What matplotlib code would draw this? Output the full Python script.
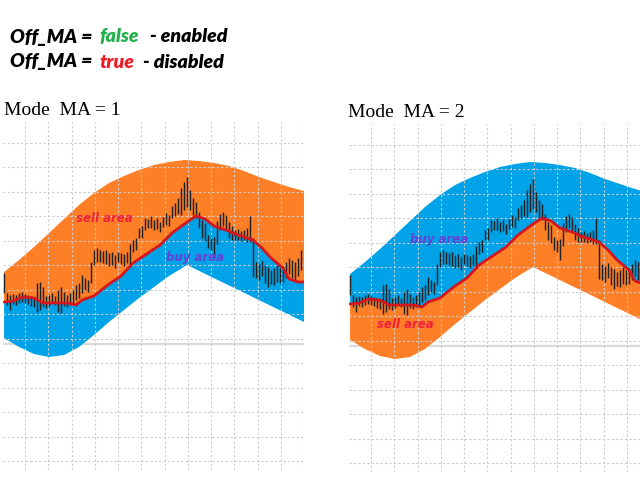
import numpy as np
import matplotlib.pyplot as plt

# bar highs / lows (price points), one bar per index 0..99
bar_high = [207, 187, 185, 186, 185, 187, 188, 186, 185, 184,
            183, 197, 198, 193, 184, 185, 187, 184, 190, 193,
            188, 185, 187, 190, 195, 197, 205, 202, 200, 218,
            230, 232, 230, 229, 230, 227, 228, 225, 228, 227,
            226, 228, 236, 240, 242, 252, 254, 262, 261, 264,
            260, 262, 258, 263, 267, 265, 274, 277, 282, 292,
            298, 303, 290, 282, 278, 268, 260, 257, 245, 242,
            243, 259, 266, 268, 265, 258, 254, 250, 251, 249,
            250, 252, 264, 242, 218, 216, 219, 215, 213, 210,
            212, 215, 212, 214, 218, 222, 220, 218, 222, 230]
bar_low = [187, 175, 170, 176, 175, 177, 178, 177, 176, 174,
           173, 168, 170, 173, 172, 174, 177, 175, 168, 167,
           174, 173, 175, 175, 180, 182, 187, 190, 188, 197,
           215, 218, 218, 217, 216, 214, 215, 212, 218, 216,
           214, 217, 213, 228, 230, 242, 242, 250, 252, 252,
           250, 251, 248, 253, 255, 254, 262, 264, 266, 265,
           270, 273, 270, 265, 262, 252, 242, 239, 232, 230,
           222, 236, 250, 254, 250, 242, 240, 240, 240, 239,
           240, 238, 238, 203, 202, 200, 204, 197, 193, 196,
           195, 198, 197, 198, 202, 206, 202, 200, 204, 210]

# upper edge of the band
x_upper = [0, 5, 10, 15, 20, 25, 30, 35, 40, 45, 50, 55, 60, 65, 70, 75, 80, 85, 90, 95, 100]
upper = [208, 220, 233, 247, 261, 275, 287, 297, 304, 310, 315, 318, 320, 319, 317, 314, 309, 303, 298, 293, 289]

# lower edge of the band
x_lower = [0, 5, 10, 15, 20, 25, 30, 35, 40, 45, 50, 55, 61, 100]
lower = [142, 133, 126, 123, 125, 133, 145, 158, 170, 182, 193, 204, 215, 158]

# moving average line
x_ma = [0, 3, 6, 10, 13, 16, 21, 24, 26, 30, 32, 35, 39, 43, 46, 52,
        56, 61, 64, 67, 70, 74, 77, 80, 83, 86, 89, 93, 95, 98, 100]
ma = [178, 179, 183, 182, 177, 177, 177, 175, 180, 184, 189, 196, 204, 217, 223, 235,
      247, 258, 264, 261, 254, 250, 246, 243, 240, 232, 222, 212, 201, 198, 198]

base_level = 136

ORANGE = '#ff7f27'
BLUE = '#00a2e8'


def draw_panel(ax, above_color, below_color, above_label, below_label, above_pos, below_pos):
    n = len(bar_high)
    ax.fill(np.concatenate([x_upper, x_ma[::-1]]), np.concatenate([upper, ma[::-1]]),
            color=above_color, lw=0, zorder=1)
    ax.fill(np.concatenate([x_ma, x_lower[::-1]]), np.concatenate([ma, lower[::-1]]),
            color=below_color, lw=0, zorder=1)
    ax.axhline(base_level, color='#dadada', lw=1.6, zorder=0.5)
    ax.vlines(np.arange(n), bar_low, bar_high, color='#222222', lw=1.05, zorder=3)
    ax.plot(x_ma, ma, color='#d4161e', lw=2.0, zorder=4, solid_capstyle='round')

    lab = dict(fontsize=8.5, fontweight='bold', fontstyle='italic', family='DejaVu Sans',
               ha='left', va='center', zorder=5)
    ax.text(above_pos[0], above_pos[1], above_label[0], color=above_label[1], **lab)
    ax.text(below_pos[0], below_pos[1], below_label[0], color=below_label[1], **lab)

    ax.set_xlim(-0.35, 100)
    ax.set_ylim(10, 358)
    ax.set_xticks(np.arange(7, 101, 7.75))
    ax.set_yticks(np.arange(19, 358, 24.46))
    ax.set_axisbelow(False)
    ax.grid(True, color='#cccccc', lw=0.8, linestyle=(0, (2, 2)))
    ax.tick_params(length=0, labelbottom=False, labelleft=False)
    for s in ax.spines.values():
        s.set_visible(False)


fig = plt.figure(figsize=(6.4, 4.8), dpi=100)
W, H = 640, 480

ax1 = fig.add_axes([3 / W, 10 / H, 301 / W, 348 / H])
draw_panel(ax1, ORANGE, BLUE,
           ('sell area', '#f0203c'), ('buy area', '#6b3fd6'),
           (24, 262), (54, 223))

ax2 = fig.add_axes([349 / W, 8 / H, 301 / W, 348 / H])
draw_panel(ax2, BLUE, ORANGE,
           ('buy area', '#6b3fd6'), ('sell area', '#f0203c'),
           (20, 243), (9, 157))

title_kw = dict(family='Liberation Serif', fontsize=14, ha='left', va='baseline')
fig.text(4 / W, 1 - 115 / H, 'Mode  MA = 1', **title_kw)
fig.text(348 / W, 1 - 117 / H, 'Mode  MA = 2', **title_kw)

head_kw = dict(family='Lato', fontsize=14, fontweight='heavy', fontstyle='italic',
               ha='left', va='center')
fig.text(10 / W, 1 - 37 / H, 'Off_MA =', color='black', **head_kw)
fig.text(99 / W, 1 - 37 / H, 'false', color='#22b14c', **head_kw)
fig.text(150 / W, 1 - 37 / H, '- enabled', color='black', **head_kw)
fig.text(10 / W, 1 - 62 / H, 'Off_MA =', color='black', **head_kw)
fig.text(99 / W, 1 - 62 / H, 'true', color='#ed1c24', **head_kw)
fig.text(143 / W, 1 - 62 / H, '- disabled', color='black', **head_kw)

fig.savefig('out.png', dpi=100)
